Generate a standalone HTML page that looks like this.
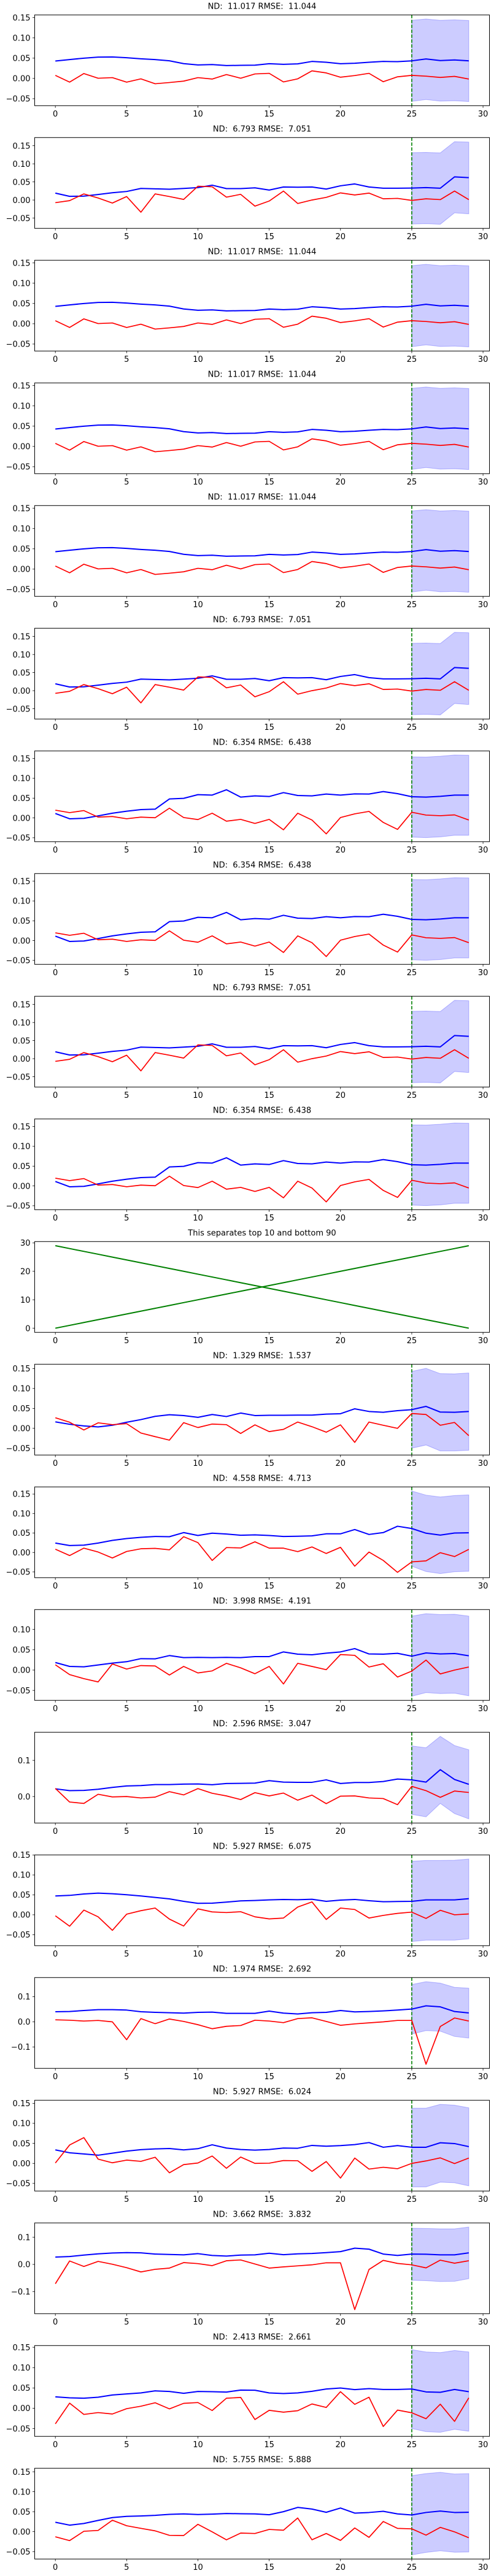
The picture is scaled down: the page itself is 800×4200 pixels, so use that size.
<!DOCTYPE html>
<html><head><meta charset="utf-8"><title>Forecast panels</title>
<style>
html,body{margin:0;padding:0;background:#fff;}
svg{display:block;font-family:"DejaVu Sans","Liberation Sans",sans-serif;}
text{white-space:pre;}
</style></head>
<body>
<svg id="fig" width="800" height="4200" viewBox="0 0 800 4200" xmlns="http://www.w3.org/2000/svg" xml:space="preserve"></svg>
<script>
// ---------- data ----------
const xValues = [0,1,2,3,4,5,6,7,8,9,10,11,12,13,14,15,16,17,18,19,20,21,22,23,24,25,26,27,28,29];
const bandX = [25,26,27,28,29];
const xTicks = [0,5,10,15,20,25,30];

const titleA = "ND:  11.017 RMSE:  11.044";
const blueA = [0.043,0.0465,0.050,0.0525,0.053,0.051,0.0485,0.0465,0.0435,0.0365,0.0333,0.0343,0.0318,0.0323,0.0328,0.0364,0.0348,0.0359,0.0419,0.0399,0.0364,0.0374,0.0399,0.0419,0.0414,0.0434,0.048,0.044,0.0455,0.0434];
const redA = [0.0076,-0.0091,0.0121,0.0005,0.002,-0.0091,-0.001,-0.0131,-0.0101,-0.0066,0.002,-0.0015,0.0096,0.0005,0.0111,0.0126,-0.0086,-0.001,0.0187,0.0136,0.003,0.0071,0.0126,-0.0081,0.004,0.0076,0.0056,0.0025,0.0051,-0.0015];
const upperA = [0.1434,0.1465,0.1434,0.1444,0.1429];
const lowerA = [-0.0566,-0.052,-0.056,-0.055,-0.057];

const titleB = "ND:  6.793 RMSE:  7.051";
const blueB = [0.0191,0.0101,0.0107,0.0152,0.0202,0.0236,0.032,0.0309,0.0298,0.032,0.0343,0.041,0.0315,0.0315,0.0337,0.0275,0.036,0.0354,0.036,0.0303,0.0393,0.0444,0.036,0.0326,0.0326,0.0331,0.0343,0.0326,0.064,0.0618];
const redB = [-0.0073,-0.0017,0.0169,0.0056,-0.0084,0.0096,-0.0337,0.0169,0.0096,0.0017,0.0382,0.0365,0.0079,0.0157,-0.0169,-0.0028,0.0247,-0.0096,0,0.0073,0.0197,0.014,0.0191,0.0034,0.0045,-0.0011,0.0034,0.0011,0.0247,0.0011];
const upperB = [0.1309,0.1315,0.1303,0.1612,0.1601];
const lowerB = [-0.0663,-0.0652,-0.0669,-0.0354,-0.0382];

const titleC = "ND:  6.354 RMSE:  6.438";
const blueC = [0.0113,-0.0021,-0.001,0.0052,0.0119,0.017,0.0211,0.0222,0.0479,0.0495,0.0588,0.0577,0.0711,0.0526,0.0557,0.0541,0.0639,0.0567,0.0557,0.0603,0.0577,0.0608,0.0603,0.0665,0.0613,0.0536,0.0526,0.0546,0.0577,0.0577];
const redC = [0.0196,0.0134,0.0186,0.0021,0.0036,-0.0021,0.0021,0.0005,0.0247,0.001,-0.0041,0.0119,-0.0082,-0.0036,-0.0139,-0.0036,-0.0299,0.0119,-0.0052,-0.0402,0.001,0.0103,0.0165,-0.0113,-0.0289,0.0144,0.0072,0.0057,0.0077,-0.0052];
const upperC = [0.1541,0.1536,0.1557,0.1588,0.1582];
const lowerC = [-0.0485,-0.0495,-0.0479,-0.0438,-0.0438];

const titleSep = "This separates top 10 and bottom 90";
const sepUp = [0,1,2,3,4,5,6,7,8,9,10,11,12,13,14,15,16,17,18,19,20,21,22,23,24,25,26,27,28,29];
const sepDown = [29,28,27,26,25,24,23,22,21,20,19,18,17,16,15,14,13,12,11,10,9,8,7,6,5,4,3,2,1,0];

const titleD = "ND:  1.329 RMSE:  1.537";
const blueD = [0.0163,0.0102,0.0061,0.0036,0.0077,0.0153,0.0219,0.0301,0.0342,0.0321,0.0276,0.0347,0.0296,0.0383,0.0321,0.0327,0.0327,0.0332,0.0332,0.0357,0.0367,0.049,0.0423,0.0403,0.0444,0.0469,0.0551,0.0408,0.0403,0.0423];
const redD = [0.0265,0.0153,-0.0041,0.0138,0.0092,0.0117,-0.0117,-0.0209,-0.0296,0.0143,0.002,0.0107,0.0092,-0.0128,0.0087,-0.0082,-0.0026,0.0158,0.0041,-0.0097,0.0087,-0.0352,0.0158,0.0077,0,0.0372,0.0347,0.0077,0.0148,-0.0184];
const upperD = [0.1429,0.1505,0.1372,0.1367,0.1388];
const lowerD = [-0.05,-0.0418,-0.0566,-0.0566,-0.0551];

const titleE = "ND:  4.558 RMSE:  4.713";
const blueE = [0.0242,0.0179,0.0189,0.0242,0.0311,0.0358,0.0389,0.0411,0.0405,0.0511,0.0437,0.0495,0.0474,0.0442,0.0453,0.0437,0.0411,0.0416,0.0426,0.0479,0.0479,0.0589,0.0463,0.0511,0.0674,0.0616,0.0495,0.0447,0.05,0.0505];
const redE = [0.0084,-0.0079,0.0111,0.0011,-0.0142,0.0026,0.0095,0.0105,0.0068,0.0405,0.0253,-0.0205,0.0126,0.0116,0.0274,0.0111,0.0111,0.0021,0.0142,-0.0026,0.0132,-0.0353,0.0011,-0.0205,-0.0511,-0.0242,-0.0216,-0.0005,-0.0105,0.0079];
const upperE = [0.1579,0.1474,0.1426,0.1463,0.1479];
const lowerE = [-0.0353,-0.0489,-0.0542,-0.0495,-0.0484];

const titleF = "ND:  3.998 RMSE:  4.191";
const blueF = [0.0186,0.009,0.008,0.0126,0.0171,0.0206,0.0281,0.0276,0.0357,0.0307,0.0312,0.0307,0.0312,0.0307,0.0332,0.0332,0.0447,0.0392,0.0377,0.0417,0.0447,0.0528,0.0397,0.0392,0.0412,0.0342,0.0422,0.0397,0.0407,0.0352];
const redF = [0.0131,-0.0111,-0.0211,-0.0291,0.0151,0.0025,0.0111,0.0101,-0.0121,0.009,-0.007,-0.002,0.0166,0.0055,-0.009,0.009,-0.0342,0.0166,0.009,0.001,0.0382,0.0362,0.0075,0.0156,-0.0171,-0.0025,0.0246,-0.0095,0,0.0075];
const upperF = [0.1327,0.1387,0.1367,0.1372,0.1327];
const lowerF = [-0.0643,-0.0553,-0.0578,-0.0568,-0.0633];

const titleG = "ND:  2.596 RMSE:  3.047";
const blueG = [0.0213,0.0163,0.0169,0.0202,0.0253,0.0292,0.0303,0.0331,0.0331,0.0343,0.0348,0.0326,0.036,0.0365,0.0371,0.0438,0.0399,0.0393,0.0393,0.0461,0.036,0.0388,0.0388,0.0416,0.0483,0.0461,0.0399,0.0742,0.0472,0.0337];
const redG = [0.0225,-0.0152,-0.0191,0.0062,-0.0011,0,-0.0039,-0.0017,0.0135,0.0045,0.0219,0.009,0.0017,-0.0084,0.0107,0.0017,0.0096,-0.0101,0.0039,-0.0197,0.0011,0.0017,-0.0039,-0.0056,-0.0225,0.0281,0.0163,-0.0022,0.0152,0.0112];
const upperG = [0.1399,0.1348,0.1663,0.141,0.1292];
const lowerG = [-0.0494,-0.0562,-0.0191,-0.0472,-0.0618];

const titleH = "ND:  5.927 RMSE:  6.075";
const blueH = [0.0472,0.0487,0.0523,0.0544,0.0528,0.0503,0.0472,0.0436,0.04,0.0338,0.0287,0.0292,0.0318,0.0349,0.0359,0.0374,0.0385,0.0379,0.039,0.0338,0.0369,0.0385,0.0354,0.0328,0.0333,0.0338,0.0374,0.0374,0.0374,0.0405];
const redH = [-0.0026,-0.0287,0.0118,-0.0051,-0.039,0.0015,0.0103,0.0169,-0.0108,-0.0282,0.0149,0.0072,0.0056,0.0077,-0.0051,-0.0103,-0.0082,0.0195,0.0323,-0.0118,0.0169,0.0133,-0.0082,-0.0015,0.0036,0.0067,-0.0092,0.0113,0,0.0021];
const upperH = [0.1344,0.1364,0.1364,0.1369,0.14];
const lowerH = [-0.0672,-0.0636,-0.0636,-0.0636,-0.0605];

const titleI = "ND:  1.974 RMSE:  2.692";
const blueI = [0.0403,0.0411,0.0452,0.0484,0.0484,0.0468,0.0403,0.0379,0.0363,0.0347,0.0379,0.0387,0.0339,0.0339,0.0339,0.0427,0.0347,0.0315,0.0363,0.0379,0.0452,0.0395,0.0411,0.0435,0.0468,0.0508,0.0637,0.0597,0.0411,0.0355];
const redI = [0.0081,0.0065,0.0032,0.0056,0,-0.071,0.0129,-0.0073,0.0113,0.0016,-0.0113,-0.0274,-0.0177,-0.0145,0.0065,0.0032,-0.0032,0.0129,0.0161,0.0016,-0.0137,-0.0081,-0.004,0,0.0056,0.0056,-0.1685,-0.0185,0.0153,0.0032];
const upperI = [0.1484,0.1597,0.154,0.1371,0.1339];
const lowerI = [-0.0484,-0.0347,-0.0371,-0.0581,-0.0645];

const titleJ = "ND:  5.927 RMSE:  6.024";
const blueJ = [0.0337,0.0265,0.0235,0.0204,0.0255,0.0306,0.0342,0.0362,0.0372,0.0337,0.0367,0.0464,0.0383,0.0347,0.0332,0.0347,0.0383,0.0378,0.0449,0.0429,0.0444,0.0469,0.052,0.0403,0.0444,0.0403,0.0403,0.0515,0.0495,0.0418];
const redJ = [0.001,0.0459,0.0643,0.0107,0.0015,0.0082,0.0051,0.0153,-0.0235,-0.0031,0.001,0.0184,-0.0122,0.0158,0,0.0005,0.0071,0.0066,-0.0199,0.0046,-0.0367,0.0133,-0.0143,-0.0097,-0.0133,0,0.0061,0.0138,-0.0005,0.0133];
const upperJ = [0.1378,0.1378,0.1474,0.1454,0.1388];
const lowerJ = [-0.0587,-0.0587,-0.0469,-0.0485,-0.0561];

const titleK = "ND:  3.662 RMSE:  3.832";
const blueK = [0.027,0.0292,0.0345,0.039,0.042,0.0434,0.0427,0.0382,0.0367,0.0352,0.0397,0.033,0.0307,0.0345,0.0352,0.0412,0.036,0.039,0.0405,0.0434,0.0472,0.0599,0.0562,0.0382,0.033,0.0382,0.0375,0.0352,0.0352,0.0427];
const redK = [-0.0712,0.0127,-0.0075,0.0112,0.0007,-0.012,-0.0277,-0.018,-0.0135,0.0067,0.003,-0.0045,0.0135,0.0165,0.0015,-0.0135,-0.009,-0.0052,-0.0015,0.006,0.006,-0.1663,-0.0187,0.015,0.0037,-0.0015,-0.0127,0.0157,0.0045,0.0135];
const upperK = [0.1333,0.1326,0.1311,0.1311,0.1378];
const lowerK = [-0.0584,-0.0599,-0.0629,-0.0622,-0.0524];

const titleL = "ND:  2.413 RMSE:  2.661";
const blueL = [0.0282,0.0257,0.0247,0.0272,0.0327,0.0353,0.0378,0.0428,0.0413,0.0368,0.0413,0.0408,0.0398,0.0448,0.0443,0.0378,0.0363,0.0378,0.0418,0.0474,0.0499,0.0458,0.0484,0.0463,0.0463,0.0474,0.0403,0.0393,0.0463,0.0408];
const redL = [-0.0383,0.0126,-0.0151,-0.0106,-0.0141,-0.001,0.005,0.0136,-0.0015,0.0121,0.0141,-0.0055,0.0247,0.0267,-0.0277,-0.005,-0.0096,-0.006,0.0106,0.002,0.0408,0.0096,0.0272,-0.0448,-0.0045,-0.0111,-0.0257,0.0101,-0.0322,0.0257];
const upperL = [0.1441,0.1385,0.137,0.1421,0.1385];
const lowerL = [-0.0499,-0.0574,-0.0589,-0.0519,-0.0564];

const titleM = "ND:  5.755 RMSE:  5.888";
const blueM = [0.0235,0.0163,0.0204,0.0281,0.0352,0.0383,0.0393,0.0408,0.0434,0.0444,0.0429,0.0439,0.0454,0.0449,0.0444,0.0423,0.05,0.0607,0.0566,0.0485,0.0592,0.0464,0.048,0.051,0.0444,0.0418,0.048,0.0515,0.048,0.0485];
const redM = [-0.0128,-0.0224,0.001,0.0031,0.0286,0.0148,0.0082,0.002,-0.0092,-0.0097,0.0184,-0.0005,-0.0204,-0.0036,-0.0046,0.0056,0.0036,0.0342,-0.0204,-0.0046,-0.0219,0.0092,-0.0143,0.0255,0.0082,0.0071,-0.0087,0.0107,-0.0005,-0.0153];
const upperM = [0.1403,0.1454,0.1485,0.1444,0.1454];
const lowerM = [-0.0582,-0.052,-0.048,-0.0515,-0.051];

const forecastStart = 25;

// panel order: [title, blue, red, upper, lower, tickStep, decimals]
const panels = [
  [titleA,blueA,redA,upperA,lowerA,0.05,2],
  [titleB,blueB,redB,upperB,lowerB,0.05,2],
  [titleA,blueA,redA,upperA,lowerA,0.05,2],
  [titleA,blueA,redA,upperA,lowerA,0.05,2],
  [titleA,blueA,redA,upperA,lowerA,0.05,2],
  [titleB,blueB,redB,upperB,lowerB,0.05,2],
  [titleC,blueC,redC,upperC,lowerC,0.05,2],
  [titleC,blueC,redC,upperC,lowerC,0.05,2],
  [titleB,blueB,redB,upperB,lowerB,0.05,2],
  [titleC,blueC,redC,upperC,lowerC,0.05,2],
  null,
  [titleD,blueD,redD,upperD,lowerD,0.05,2],
  [titleE,blueE,redE,upperE,lowerE,0.05,2],
  [titleF,blueF,redF,upperF,lowerF,0.05,2],
  [titleG,blueG,redG,upperG,lowerG,0.1,1],
  [titleH,blueH,redH,upperH,lowerH,0.05,2],
  [titleI,blueI,redI,upperI,lowerI,0.1,1],
  [titleJ,blueJ,redJ,upperJ,lowerJ,0.05,2],
  [titleK,blueK,redK,upperK,lowerK,0.1,1],
  [titleL,blueL,redL,upperL,lowerL,0.05,2],
  [titleM,blueM,redM,upperM,lowerM,0.05,2]
];

// ---------- drawing ----------
const NS = "http://www.w3.org/2000/svg";
const svg = document.getElementById("fig");
const AX_L = 56.5, AX_R = 797.5, AX_T = 24.3, AX_B = 172.3;
const XMIN = -1.45, XMAX = 30.45;

function mk(tag, attrs, parent) {
  const e = document.createElementNS(NS, tag);
  for (const k in attrs) e.setAttribute(k, attrs[k]);
  parent.appendChild(e);
  return e;
}
function fmt(v, d) {
  const s = Math.abs(v).toFixed(d);
  return (v < -1e-9 ? "\u2212" : "") + s;
}

panels.forEach((p, i) => {
  const top = i * 200;
  const g = mk("g", {}, svg);
  
  

  let title, ymin, ymax, step, dec;
  if (p === null) {
    title = titleSep;
    ymin = Math.min(...sepUp, ...sepDown); ymax = Math.max(...sepUp, ...sepDown);
    step = 10; dec = 0;
  } else {
    title = p[0]; step = p[5]; dec = p[6];
    const all = [...p[1], ...p[2], ...p[3], ...p[4]];
    ymin = Math.min(...all); ymax = Math.max(...all);
  }
  const r = ymax - ymin;
  const y0 = ymin - 0.05 * r, y1 = ymax + 0.05 * r;
  const sx = x => AX_L + (x - XMIN) / (XMAX - XMIN) * (AX_R - AX_L);
  const sy = y => top + AX_B - (y - y0) / (y1 - y0) * (AX_B - AX_T);

  const t = mk("text", {x: 427, y: top + 14.5, "text-anchor": "middle", "font-size": 13, fill: "#000"}, g);
  t.textContent = title;
  
  

  const clipId = "clip" + i;
  const cp = mk("clipPath", {id: clipId}, g);
  mk("rect", {x: AX_L, y: top + AX_T, width: AX_R - AX_L, height: AX_B - AX_T}, cp);
  const plot = mk("g", {"clip-path": "url(#" + clipId + ")"}, g);

  if (p === null) {
    [sepUp, sepDown].forEach((arr, k) => {
      const pl = mk("polyline", {points: xValues.map((x, j) => sx(x).toFixed(2) + "," + sy(arr[j]).toFixed(2)).join(" "),
        fill: "none", stroke: "#008000", "stroke-width": 2}, plot);
      
      
    });
  } else {
    const [, blue, red, upper, lower] = p;
    const pts = bandX.map((x, j) => sx(x).toFixed(2) + "," + sy(upper[j]).toFixed(2))
      .concat(bandX.slice().reverse().map((x, j) => sx(x).toFixed(2) + "," + sy(lower[lower.length - 1 - j]).toFixed(2)));
    const band = mk("polygon", {points: pts.join(" "), fill: "rgba(0,0,255,0.2)", stroke: "rgba(0,0,255,0.25)", "stroke-width": 1}, plot);
    
    

    const vl = mk("line", {x1: sx(forecastStart), x2: sx(forecastStart), y1: top + AX_T, y2: top + AX_B,
      stroke: "#008000", "stroke-width": 1.6, "stroke-dasharray": "5.5,2.5"}, plot);
    
    

    const bl = mk("polyline", {points: xValues.map((x, j) => sx(x).toFixed(2) + "," + sy(blue[j]).toFixed(2)).join(" "),
      fill: "none", stroke: "#0000ff", "stroke-width": 2, "stroke-linejoin": "round"}, plot);
    
    

    const rl = mk("polyline", {points: xValues.map((x, j) => sx(x).toFixed(2) + "," + sy(red[j]).toFixed(2)).join(" "),
      fill: "none", stroke: "#ff0000", "stroke-width": 1.7, "stroke-linejoin": "round"}, plot);
    
    
  }

  const frame = mk("rect", {x: AX_L, y: top + AX_T, width: AX_R - AX_L, height: AX_B - AX_T, fill: "none", stroke: "#000", "stroke-width": 1}, g);
  
  

  xTicks.forEach(v => {
    const X = sx(v);
    mk("line", {x1: X, x2: X, y1: top + AX_B, y2: top + AX_B + 3.5, stroke: "#000", "stroke-width": 0.8}, g);
    const tx = mk("text", {x: X, y: top + AX_B + 17.5, "text-anchor": "middle", "font-size": 13, fill: "#000"}, g);
    tx.textContent = String(v);
    
    
  });
  const start = Math.ceil((y0 - 1e-9) / step), end = Math.floor((y1 + 1e-9) / step);
  for (let k = start; k <= end; k++) {
    const v = k * step, Y = sy(v);
    mk("line", {x1: AX_L - 3.5, x2: AX_L, y1: Y, y2: Y, stroke: "#000", "stroke-width": 0.8}, g);
    const ty = mk("text", {x: AX_L - 7, y: Y + 4.7, "text-anchor": "end", "font-size": 13, fill: "#000"}, g);
    ty.textContent = fmt(v, dec);
    
    
  }
});
</script>
</body></html>
